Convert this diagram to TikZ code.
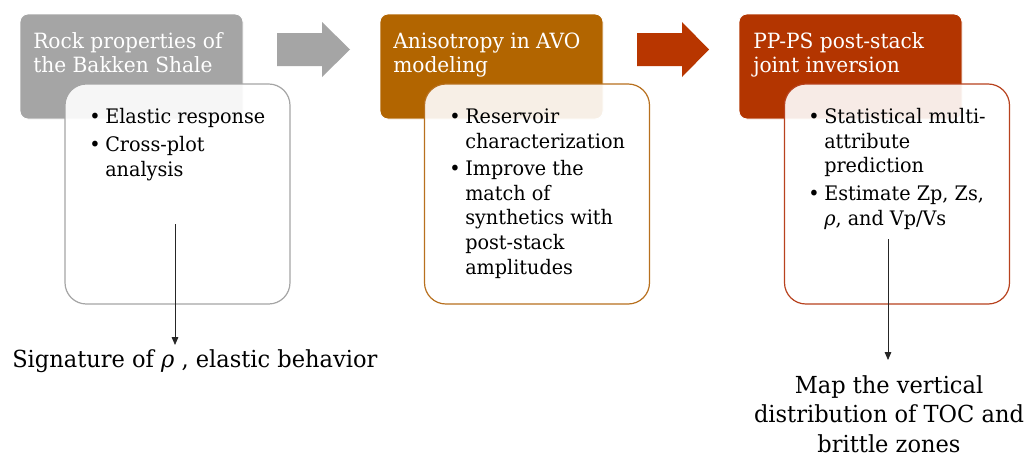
\documentclass[tikz,border=0pt]{standalone}
\usepackage{fontspec}
\setmainfont{DejaVu Serif}[FakeStretch=0.96]
\usetikzlibrary{arrows.meta}
\definecolor{cgray}{HTML}{A5A5A5}
\definecolor{cbrown}{HTML}{B26500}
\definecolor{cred}{HTML}{B33500}
\definecolor{carrow}{HTML}{B83600}
\definecolor{bbrown}{HTML}{B8701E}
\definecolor{bred}{HTML}{B8421E}
\newcommand\bul{\makebox[12pt][l]{\textbullet}}
\newcommand\ind{\hspace*{12pt}}
\tikzset{
  hdr/.style={rounded corners=6pt, draw=white, line width=0.6pt, minimum width=167.25pt, minimum height=78.75pt, inner sep=0pt},
  cnt/.style={rounded corners=16pt, fill=white, fill opacity=0.9, line width=0.9pt, minimum width=168.75pt, minimum height=165pt, inner sep=0pt},
  htext/.style={anchor=base west, inner sep=0pt, align=left, text=white, font=\fontsize{15.75}{18}\selectfont},
  btext/.style={anchor=base west, inner sep=0pt, align=left, text=black, font=\fontsize{15}{18.4}\selectfont},
  bigtext/.style={inner sep=0pt, font=\fontsize{17.6}{22.1}\selectfont},
  conn/.style={draw=black!85, line width=0.6pt, -{Triangle[length=6pt,width=5pt]}}
}
\begin{document}
\begin{tikzpicture}[x=0.75pt,y=-0.75pt]
\useasboundingbox (0,0) rectangle (1028,461);
\fill[white] (0,0) rectangle (1028,461);
% box 1
\node[hdr, fill=cgray] (h1) at (131.5,66.5) {};
\node[cnt, draw=cgray] (c1) at (177.5,194) {};
\node[htext] (h1t) at (33,72) {Rock properties of\\the Bakken Shale};
\node[btext] (c1t) at (89,176) {\bul Elastic response\\[2.25pt]\bul Cross-plot\\\ind analysis};
% arrow 1
\fill[cgray] (277,33) -- (322,33) -- (322,22) -- (350,49.5) -- (322,77) -- (322,66) -- (277,66) -- cycle;
% box 2
\node[hdr, fill=cbrown] (h2) at (491.5,66.5) {};
\node[cnt, draw=bbrown] (c2) at (537,194) {};
\node[htext] (h2t) at (393,72) {Anisotropy in AVO\\modeling};
\node[btext] (c2t) at (449,274) {\bul Reservoir\\\ind characterization\\[2.25pt]\bul Improve the\\\ind match of\\\ind synthetics with\\\ind post-stack\\\ind amplitudes};
% arrow 2
\fill[carrow] (637,33) -- (682,33) -- (682,22) -- (709,49.5) -- (682,77) -- (682,66) -- (637,66) -- cycle;
% box 3
\node[hdr, fill=cred] (h3) at (850.5,66.5) {};
\node[cnt, draw=bred] (c3) at (897,194) {};
\node[htext] (h3t) at (753,72) {PP-PS post-stack\\joint inversion};
\node[btext] (c3t) at (808,225) {\bul Statistical multi-\\\ind attribute\\\ind prediction\\[2.25pt]\bul Estimate Zp, Zs,\\\ind \textit{ρ}, and Vp/Vs};
% bottom texts
\node[bigtext, anchor=base west] (sig) at (12,367) {Signature of \textit{ρ} , elastic behavior};
\node[bigtext, anchor=base, align=center] (map) at (889,452) {Map the vertical\\distribution of TOC and\\brittle zones};
% connectors
\coordinate (s1) at (175,224);
\coordinate (e1) at (175,345);
\coordinate (s3) at (888,239);
\coordinate (e3) at (888,360);
\draw[conn] (s1) -- (e1);
\draw[conn] (s3) -- (e3);
\end{tikzpicture}
\end{document}
